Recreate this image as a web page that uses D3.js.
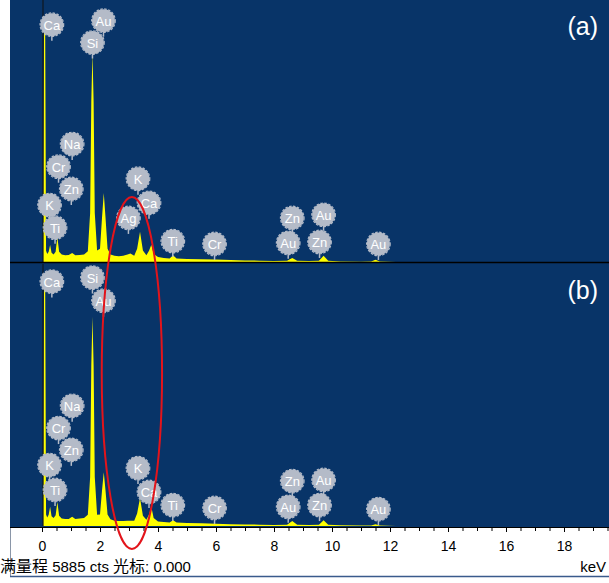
<!DOCTYPE html>
<html>
<head>
<meta charset="utf-8">
<script src="https://cdn.jsdelivr.net/npm/d3@7"></script>
<style>
  body { margin: 0; background: #fff; }
  svg { display: block; }
</style>
</head>
<body>
<svg id="chart" width="609" height="583"></svg>
<script>
// energy grid (keV) shared by both spectra
var energy = [0, 0.04, 0.07, 0.11, 0.14, 0.18, 0.23, 0.28, 0.33, 0.40, 0.47, 0.53, 0.59, 0.68, 0.80, 0.92,
  1.04, 1.15, 1.30, 1.45, 1.58, 1.66, 1.70, 1.74, 1.78, 1.82, 1.90, 2.00, 2.07, 2.13, 2.19, 2.26, 2.36,
  2.50, 2.65, 2.80, 2.95, 3.05, 3.18, 3.28, 3.38, 3.48, 3.60, 3.69, 3.77, 3.85, 4.00, 4.20, 4.40, 4.52,
  4.64, 5.00, 5.50, 6.00, 6.50, 7.00, 7.50, 8.00, 8.45, 8.63, 8.80, 9.20, 9.55, 9.71, 9.87, 10.3, 11.0,
  11.35, 11.5, 11.65, 12.2, 14, 16, 18, 20];

var countsA = [0, 0, 5200, 5200, 250, 180, 230, 380, 210, 170, 230, 560, 230, 170, 150, 160,
  200, 150, 160, 170, 240, 1100, 3600, 4700, 3600, 1100, 260, 300, 1000, 1550, 1000, 300, 170,
  140, 130, 140, 170, 190, 140, 300, 680, 260, 150, 250, 390, 180, 110, 90, 80, 150,
  80, 70, 60, 55, 45, 35, 30, 20, 30, 90, 30, 20, 30, 140, 30, 10, 5,
  10, 50, 10, 0, 0, 0, 0, 0];

var countsB = [0, 0, 5350, 5350, 260, 190, 250, 430, 220, 180, 240, 540, 230, 170, 160, 160,
  210, 160, 170, 180, 250, 1100, 3600, 4700, 3600, 1100, 250, 260, 800, 1210, 800, 260, 150,
  120, 110, 110, 120, 120, 120, 280, 630, 230, 140, 260, 430, 180, 100, 90, 80, 130,
  80, 70, 60, 50, 40, 35, 30, 25, 30, 110, 30, 25, 30, 130, 30, 15, 10,
  10, 40, 10, 0, 0, 0, 0, 0];

// element markers: name, energy (keV), marker level (cts)
var labelNamesA = ['Ca', 'Au', 'Si', 'Na', 'Cr', 'Zn', 'K', 'Ti', 'K', 'Ca', 'Ag', 'Ti', 'Cr', 'Zn', 'Au', 'Au', 'Zn', 'Au'];
var labelEnergyA = [0.34, 2.12, 1.74, 1.04, 0.57, 1.01, 0.26, 0.45, 3.31, 3.69, 2.98, 4.51, 5.95, 8.63, 9.71, 8.49, 9.57, 11.6];
var labelLevelA = [5330, 5420, 4930, 2650, 2140, 1640, 1280, 770, 1870, 1330, 990, 470, 405, 990, 1060, 430, 450, 405];

var labelNamesB = ['Ca', 'Si', 'Au', 'Na', 'Cr', 'Zn', 'K', 'Ti', 'K', 'Ca', 'Ti', 'Cr', 'Zn', 'Au', 'Au', 'Zn', 'Au'];
var labelEnergyB = [0.34, 1.74, 2.12, 1.04, 0.57, 1.01, 0.26, 0.45, 3.31, 3.69, 4.51, 5.95, 8.63, 9.71, 8.49, 9.57, 11.6];
var labelLevelB = [5490, 5580, 5060, 2700, 2200, 1710, 1370, 810, 1300, 765, 470, 405, 1010, 1035, 430, 470, 380];

var tickLabels = [0, 2, 4, 6, 8, 10, 12, 14, 16, 18];
var fullScale = 5885;

var svg = d3.select('#chart');
var blue = '#083468',
    yellow = '#ffff00',
    markFill = '#b4bbc8';

var x = d3.scaleLinear().domain([0, 20]).range([42, 622]);
var yA = d3.scaleLinear().domain([0, fullScale]).range([262, 0]);
var yB = d3.scaleLinear().domain([0, fullScale]).range([526, 264]);

// panels
svg.append('rect').attr('x', 10).attr('y', 0).attr('width', 599).attr('height', 527).style('fill', blue);

var defs = svg.append('defs');
defs.append('clipPath').attr('id', 'clipA').append('rect')
    .attr('x', 10).attr('y', 0).attr('width', 599).attr('height', 262);
defs.append('clipPath').attr('id', 'clipB').append('rect')
    .attr('x', 10).attr('y', 264).attr('width', 599).attr('height', 263);

function drawPanel(counts, y, clip, names, energies, levels, tag) {
    var g = svg.append('g').attr('clip-path', 'url(#' + clip + ')');
    var pts = energy.map(function(e, i) { return [e, counts[i]]; });
    var area = d3.area()
        .x(function(d) { return x(d[0]); })
        .y0(y(0))
        .y1(function(d) { return y(d[1]); });
    g.append('path').datum(pts).attr('d', area).style('fill', yellow);

    // cursor line at 0 keV
    g.append('line')
        .attr('x1', x(0) + 1).attr('x2', x(0) + 1)
        .attr('y1', y(fullScale)).attr('y2', y(0))
        .style('stroke', '#111').style('stroke-width', 1);

    // element markers
    var m = g.selectAll('g.mark').data(names).enter().append('g')
        .attr('transform', function(d, i) {
            return 'translate(' + x(energies[i]) + ',' + y(levels[i]) + ')';
        });
    m.append('line').attr('x1', 0).attr('x2', 0).attr('y1', 9).attr('y2', 16)
        .style('stroke', markFill).style('stroke-width', 1.5);
    m.append('circle').attr('r', 11.5).style('fill', markFill);
    m.append('circle').attr('r', 11.8)
        .style('fill', 'none').style('stroke', markFill)
        .style('stroke-width', 1.2).style('stroke-dasharray', '2.5,1.5');
    m.append('text')
        .attr('y', 0.5)
        .attr('text-anchor', 'middle')
        .attr('dominant-baseline', 'central')
        .style('font-family', 'Liberation Sans, Arial, sans-serif')
        .style('font-size', '13px')
        .style('fill', '#fff')
        .text(function(d) { return d; });

    svg.append('text')
        .attr('x', 598).attr('y', y(fullScale) + 35)
        .attr('text-anchor', 'end')
        .style('font-family', 'Liberation Sans, Arial, sans-serif')
        .style('font-size', '25px')
        .style('fill', '#fff')
        .text(tag);
}

drawPanel(countsA, yA, 'clipA', labelNamesA, labelEnergyA, labelLevelA, '(a)');
drawPanel(countsB, yB, 'clipB', labelNamesB, labelEnergyB, labelLevelB, '(b)');

// separator line between panels
svg.append('line').attr('x1', 10).attr('x2', 609).attr('y1', 262.5).attr('y2', 262.5)
    .style('stroke', '#000').style('stroke-width', 1.5);

// axis strip
svg.append('rect').attr('x', 10).attr('y', 527).attr('width', 599).attr('height', 49).style('fill', '#fff');
svg.append('line').attr('x1', 10.5).attr('x2', 10.5).attr('y1', 527).attr('y2', 576)
    .style('stroke', '#8a96a8').style('stroke-width', 1);
svg.append('line').attr('x1', 10).attr('x2', 609).attr('y1', 576.5).attr('y2', 576.5)
    .style('stroke', '#3a5a8c').style('stroke-width', 1.5);

var minor = d3.range(0, 20.01, 0.5);
svg.append('g').attr('transform', 'translate(0,527)')
    .call(d3.axisBottom(x).tickValues(minor).tickSize(4).tickFormat(''))
    .call(function(g) { g.select('.domain').remove(); });

svg.append('g').attr('transform', 'translate(0,527)')
    .call(d3.axisBottom(x).tickValues(tickLabels).tickSize(5).tickPadding(9))
    .call(function(g) {
        g.select('.domain').attr('d', 'M10,0.5H609').style('stroke', '#000');
        g.selectAll('text')
            .style('font-family', 'Liberation Sans, Arial, sans-serif')
            .style('font-size', '14px')
            .style('fill', '#000');
    });

// status line
var statusText = svg.append('text').attr('x', 0).attr('y', 572)
    .style('font-family', 'Liberation Sans, Arial, sans-serif')
    .style('font-size', '15px').style('fill', '#000');
statusText.append('tspan').style('font-family', 'Noto Sans CJK SC').style('font-size', '16px').text('满量程');
statusText.append('tspan').text(' 5885 cts ');
statusText.append('tspan').style('font-family', 'Noto Sans CJK SC').style('font-size', '16px').text('光标');
statusText.append('tspan').text(': 0.000');

svg.append('text').attr('x', 606).attr('y', 572)
    .attr('text-anchor', 'end')
    .style('font-family', 'Liberation Sans, Arial, sans-serif')
    .style('font-size', '15px').style('fill', '#000')
    .text('keV');

// red highlight ellipse
svg.append('ellipse')
    .attr('cx', x(3.1)).attr('cy', 373)
    .attr('rx', x(3.1) - x(2.06)).attr('ry', 176)
    .style('fill', 'none').style('stroke', '#e3141b').style('stroke-width', 2);
</script>
</body>
</html>
